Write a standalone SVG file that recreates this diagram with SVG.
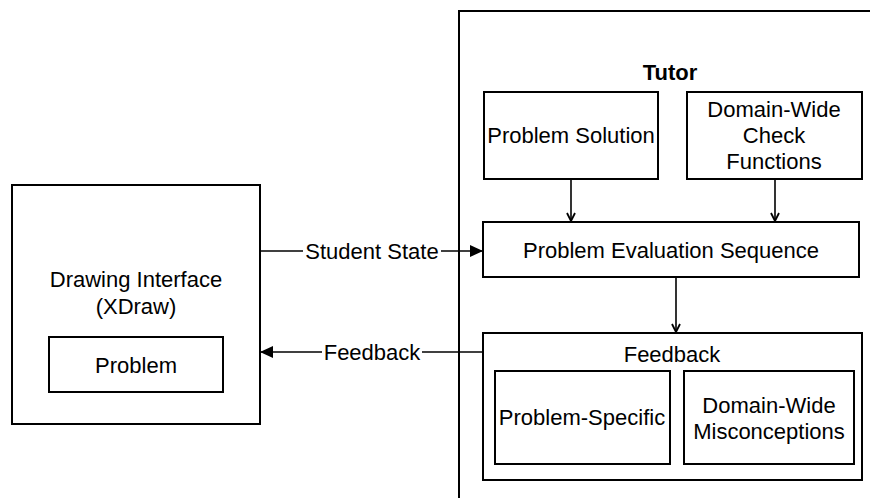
<svg xmlns="http://www.w3.org/2000/svg" width="870" height="498" viewBox="0 0 870 498">
  <defs>
    <style>
      .box { fill: #ffffff; stroke: #000000; stroke-width: 2; }
      .frame { fill: none; stroke: #000000; stroke-width: 2; }
      .edge { fill: none; stroke: #000000; stroke-width: 1.6; }
      text { font-family: "Liberation Sans", Arial, sans-serif; font-size: 22px; fill: #000000; text-anchor: middle; dominant-baseline: central; }
      .bold { font-weight: bold; }
      .lbl-bg { fill: #ffffff; }
    </style>
    <marker id="block" viewBox="0 0 13 12" refX="13" refY="6" markerWidth="13" markerHeight="12" markerUnits="userSpaceOnUse" orient="auto">
      <path d="M0,0 L13,6 L0,12 Z" fill="#000000"/>
    </marker>
    <marker id="open" viewBox="0 0 10 10" refX="9" refY="5" markerWidth="10" markerHeight="10" markerUnits="userSpaceOnUse" orient="auto">
      <path d="M1,1 L9,5 L1,9" fill="none" stroke="#000000" stroke-width="1.8"/>
    </marker>
  </defs>

  <rect width="870" height="498" fill="#ffffff"/>

  <!-- Tutor container (runs off the right and bottom edges) -->
  <g id="tutor">
    <rect class="frame" x="459" y="11" width="430" height="510"/>
    <text class="bold" x="670" y="72">Tutor</text>
  </g>

  <g id="drawing-interface">
    <rect class="box" x="12" y="185" width="248" height="239"/>
    <text x="136" y="279">Drawing Interface</text>
    <text x="136" y="306">(XDraw)</text>
  </g>

  <g id="problem">
    <rect class="box" x="49" y="337" width="174" height="55"/>
    <text x="136" y="365">Problem</text>
  </g>

  <g id="problem-solution">
    <rect class="box" x="484" y="92" width="174" height="87"/>
    <text x="571" y="135">Problem Solution</text>
  </g>

  <g id="domain-check">
    <rect class="box" x="687" y="92" width="175" height="87"/>
    <text x="774" y="109">Domain-Wide</text>
    <text x="774" y="135">Check</text>
    <text x="774" y="161">Functions</text>
  </g>

  <g id="evaluation-sequence">
    <rect class="box" x="483" y="222" width="376" height="55"/>
    <text x="671" y="250">Problem Evaluation Sequence</text>
  </g>

  <g id="feedback">
    <rect class="box" x="483" y="333" width="379" height="147"/>
    <text x="672" y="354">Feedback</text>
  </g>

  <g id="problem-specific">
    <rect class="box" x="495" y="371" width="175" height="93"/>
    <text x="582" y="417">Problem-Specific</text>
  </g>

  <g id="domain-misconceptions">
    <rect class="box" x="684" y="371" width="170" height="93"/>
    <text x="769" y="405">Domain-Wide</text>
    <text x="769" y="431">Misconceptions</text>
  </g>

  <g id="connectors">
    <path class="edge" d="M260,251 H483" marker-end="url(#block)"/>
    <rect class="lbl-bg" x="303" y="238" width="138" height="26"/>
    <text x="372" y="251">Student State</text>

    <path class="edge" d="M483,352 H260" marker-end="url(#block)"/>
    <rect class="lbl-bg" x="322" y="339" width="100" height="26"/>
    <text x="372" y="352">Feedback</text>

    <path class="edge" d="M571,179 V221" marker-end="url(#open)"/>
    <path class="edge" d="M775,179 V221" marker-end="url(#open)"/>
    <path class="edge" d="M676,277 V332" marker-end="url(#open)"/>
  </g>
</svg>
